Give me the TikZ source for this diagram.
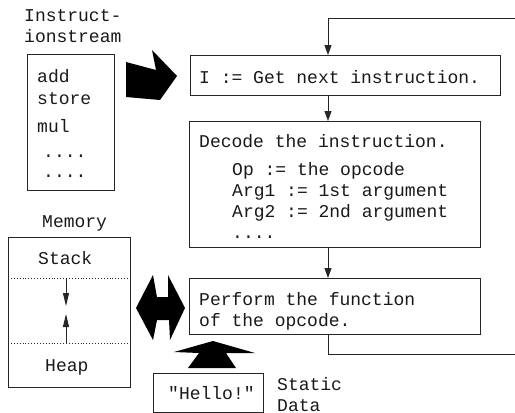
\documentclass[tikz,border=0pt]{standalone}
\usepackage{fontspec}
\newfontfamily\monof{Liberation Mono}
\usetikzlibrary{arrows.meta}
\begin{document}
\begin{tikzpicture}[x=1pt,y=-1pt,
  font=\monof\fontsize{18}{21}\selectfont,
  box/.style={draw=black!85, line width=0.9pt, anchor=north west, inner sep=0pt},
  txt/.style={anchor=base west, inner sep=0pt, text=black!90},
  arr/.style={draw=black!85, line width=0.9pt, -{Triangle[length=10pt,width=7pt]}},
  smallarr/.style={draw=black!85, line width=0.9pt, -{Triangle[length=13pt,width=6pt]}},
  dotline/.style={draw=black!85, line width=0.9pt, dotted},
  fat/.style={fill=black}]
\useasboundingbox (0,0) rectangle (515,413);
\clip (0,0) rectangle (515,413);

% boxes
\node[box, minimum width=87pt, minimum height=136pt] (stream) at (27,54) {};
\node[box, minimum width=310pt, minimum height=40pt] (get) at (190,55) {};
\node[box, minimum width=291pt, minimum height=126pt] (decode) at (189,121) {};
\node[box, minimum width=291pt, minimum height=56pt] (perform) at (189,278) {};
\node[box, minimum width=122pt, minimum height=150pt] (memory) at (8,237) {};
\node[box, minimum width=110pt, minimum height=39pt] (hello) at (153,373) {};

% texts
\node[txt] (t1) at (24,21) {Instruct-};
\node[txt] (t2) at (24,42) {ionstream};
\node[txt] (s1) at (37,82) {add};
\node[txt] (s2) at (37,104) {store};
\node[txt] (s3) at (37,132) {mul};
\node[txt] (s4) at (43,157) {....};
\node[txt] (s5) at (43,177) {....};

\node[txt] (g1) at (199,83) {I := Get next instruction.};

\node[txt] (d1) at (199,147) {Decode the instruction.};
\node[txt] (d2) at (232,175) {Op := the opcode};
\node[txt] (d3) at (232,196) {Arg1 := 1st argument};
\node[txt] (d4) at (232,217) {Arg2 := 2nd argument};
\node[txt] (d5) at (232,238) {....};

\node[txt] (p1) at (199,305) {Perform the function};
\node[txt] (p2) at (199,326) {of the opcode.};

\node[txt] (m0) at (42,227) {Memory};
\node[txt] (m1) at (38,264) {Stack};
\node[txt] (m2) at (45,371) {Heap};

\node[txt] (h1) at (168,399) {"Hello!"};
\node[txt] (sd1) at (277,390) {Static};
\node[txt] (sd2) at (277,411) {Data};

% connectors
\coordinate (col) at (328,0);
\coordinate (rb) at (530,354);
\coordinate (rt) at (530,18);
\draw[arr] (get.south -| col) -- (decode.north -| col);
\draw[arr] (decode.south -| col) -- (perform.north -| col);
\draw[arr] (perform.south -| col) |- (rb) -- (rt) -| (get.north -| col);

% memory internals
\coordinate (dl1) at (0,278);
\coordinate (dl2) at (0,343);
\coordinate (mc) at (66,0);
\draw[dotline] (memory.west |- dl1) -- (memory.east |- dl1);
\draw[dotline] (memory.west |- dl2) -- (memory.east |- dl2);
\coordinate (ad) at (66,306);
\coordinate (au) at (66,314);
\draw[smallarr] (mc |- dl1) -- (ad);
\draw[smallarr] (mc |- dl2) -- (au);

% fat arrows
\fill[fat] (126,62) -- (156,70) -- (152,50) -- (177,76) -- (160,100) -- (126,97) -- cycle;
\fill[fat] (136,308) -- (153,275) -- (157,297) -- (168,297) -- (168,275) -- (185,308)
  -- (170,340) -- (169,320) -- (157,320) -- (153,340) -- cycle;
\fill[fat] (213,341) -- (255,353) -- (226,353) -- (236,368) -- (188,368) -- (199,353)
  -- (174,352) -- cycle;
\end{tikzpicture}
\end{document}
